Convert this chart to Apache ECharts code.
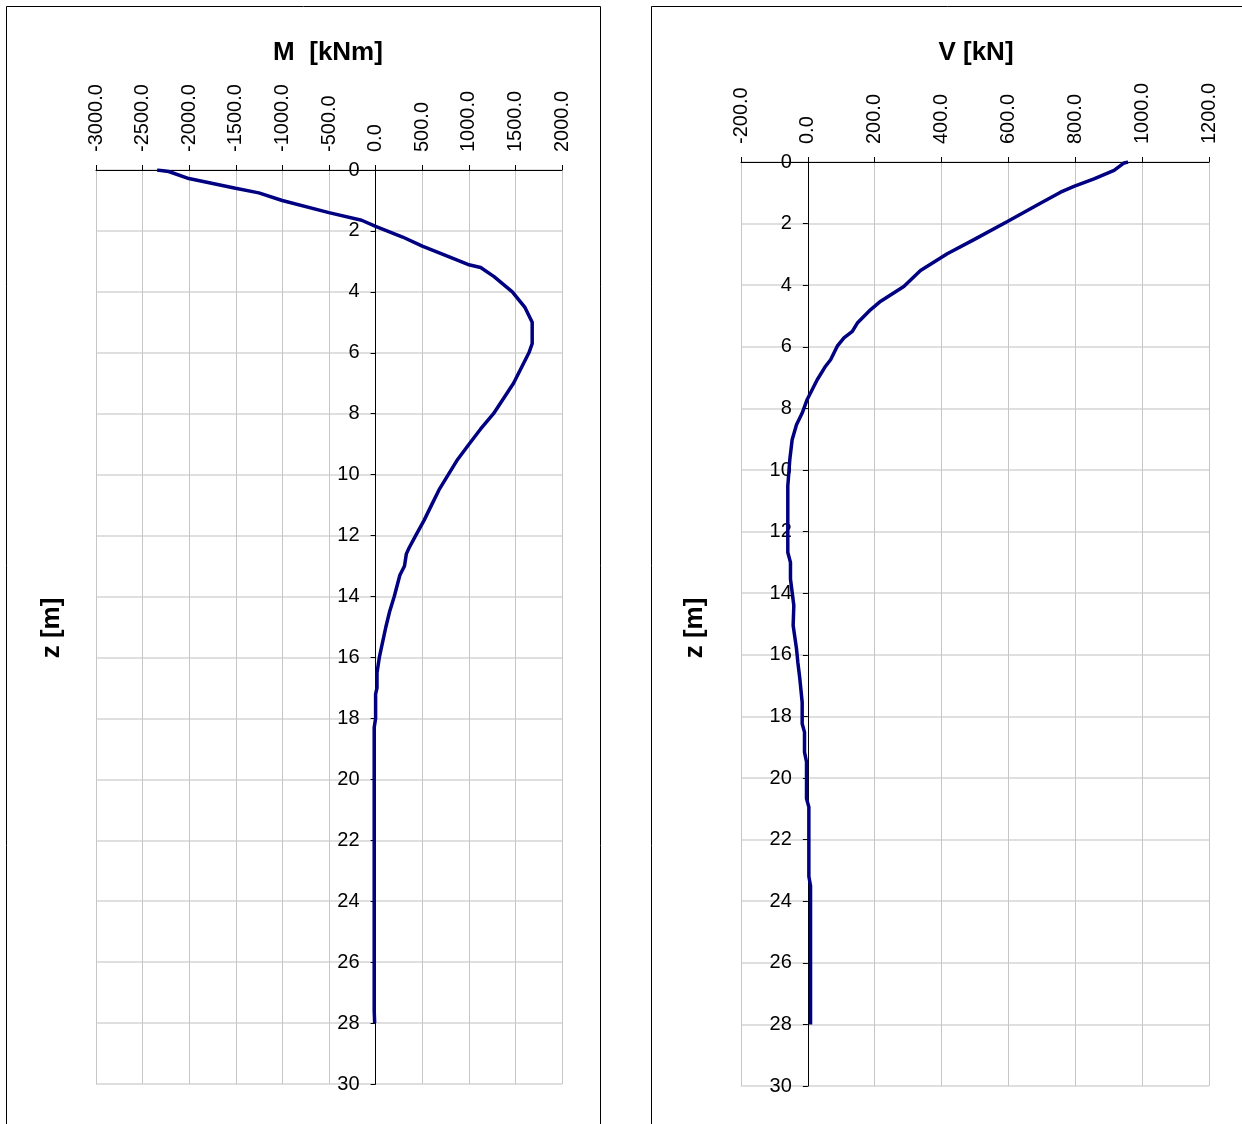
<!DOCTYPE html>
<html>
<head>
<meta charset="utf-8">
<script src="https://cdn.jsdelivr.net/npm/echarts@6/dist/echarts.min.js"></script>
<style>
html,body{margin:0;padding:0;background:#fff;}
#c{width:1242px;height:1124px;}
</style>
</head>
<body>
<div id="c"></div>
<script>
// Depth z [m] and bending moment M [kNm]
const zM = [0.0,0.05,0.28,0.6,0.75,1.0,1.4,1.65,1.85,2.2,2.5,2.85,3.1,3.2,3.5,4.0,4.5,5.0,5.7,6.0,7.0,8.0,8.5,9.0,9.5,10.0,10.5,11.0,11.5,12.0,12.4,12.6,13.0,13.3,14.0,14.5,15.0,15.5,16.0,16.5,17.0,17.2,18.0,18.3,27.6,28.0];
const mVals = [-2344,-2220,-2004,-1503,-1253,-1002,-501,-150,0,290,501,790,990,1127,1271,1467,1600,1680,1680,1645,1480,1265,1127,1002,880,780,680,600,520,430,360,330,310,260,200,150,110,75,40,15,15,0,0,-15,-15,-10];
// Depth z [m] and shear force V [kN]
const zV = [0.0,0.03,0.27,0.55,0.79,0.98,1.33,1.63,1.93,2.52,2.98,3.52,4.04,4.52,4.79,5.23,5.5,5.71,5.98,6.42,6.63,7.07,7.71,8.15,8.53,9.02,9.66,10.52,12.68,13.0,13.54,14.4,15.05,15.8,16.24,16.78,17.54,18.24,18.51,19.16,19.48,20.67,20.94,23.2,23.5,28.0];
const vVals = [958,946,916,856,796,756,697,647,597,497,417,337,287,218,188,148,133,108,88,68,53,28,-2,-17,-34,-47,-54,-60,-60,-52,-52,-42,-44,-34,-30,-24,-17,-17,-10,-10,-4,-4,3,3,8,8];
// Axis ticks
const mTicks = {min:-3000, max:2000, step:500};
const vTicks = {min:-200, max:1200, step:200};
const zTicks = {min:0, max:30, step:2};

const chart = echarts.init(document.getElementById('c'), null, {renderer:'canvas'});
const FONT = 'Liberation Sans, Arial, sans-serif';
function xAx(gi, t){
  return {
    gridIndex: gi, type:'value', position:'top', min:t.min, max:t.max, interval:t.step,
    axisLine:{onZero:false, lineStyle:{color:'#000', width:1}},
    axisTick:{show:true, length:5, lineStyle:{color:'#000'}},
    axisLabel:{rotate:-90, margin:18, fontSize:20, color:'#000', fontFamily:FONT, formatter:v=>v.toFixed(1)},
    splitLine:{show:true, lineStyle:{color:'#c6c6c6', width:1}}
  };
}
function yAx(gi, t, gridLeft, gridWidth){
  const zeroPx = gridLeft + (0 - t.min) / (t.max - t.min) * gridWidth;
  return {
    gridIndex: gi, type:'value', inverse:true, min:zTicks.min, max:zTicks.max, interval:zTicks.step,
    position:'left', offset: -(zeroPx - gridLeft),
    axisLine:{onZero:false, lineStyle:{color:'#000', width:1}},
    axisTick:{show:true, length:5, lineStyle:{color:'#000'}},
    axisLabel:{margin:16, fontSize:20, color:'#000', fontFamily:FONT, formatter:v=>String(v)},
    splitLine:{show:true, lineStyle:{color:'#d4d4d4', width:1.5}}
  };
}
chart.setOption({
  animation:false,
  backgroundColor:'#fff',
  grid:[
    {left:96, top:170, width:466, height:914},
    {left:741, top:162, width:468, height:924}
  ],
  xAxis:[xAx(0,mTicks), xAx(1,vTicks)],
  yAxis:[yAx(0,mTicks,96,466), yAx(1,vTicks,741,468)],
  series:[
    {type:'line', xAxisIndex:0, yAxisIndex:0, showSymbol:false, data:zM.map((z,i)=>[mVals[i], z]),
     lineStyle:{color:'#000080', width:3.5}, itemStyle:{color:'#000080'}},
    {type:'line', xAxisIndex:1, yAxisIndex:1, showSymbol:false, data:zV.map((z,i)=>[vVals[i], z]),
     lineStyle:{color:'#000080', width:3.5}, itemStyle:{color:'#000080'}}
  ],
  graphic:[
    {type:'rect', shape:{x:6.5, y:6.5, width:594, height:1140}, style:{fill:'none', stroke:'#000', lineWidth:1}},
    {type:'rect', shape:{x:651.5, y:6.5, width:700, height:1140}, style:{fill:'none', stroke:'#000', lineWidth:1}},
    {type:'text', x:328, y:53, style:{text:'M  [kNm]', font:'bold 26px '+FONT, fill:'#000', textAlign:'center', textVerticalAlign:'middle'}},
    {type:'text', x:976, y:53, style:{text:'V [kN]', font:'bold 26px '+FONT, fill:'#000', textAlign:'center', textVerticalAlign:'middle'}},
    {type:'text', x:52, y:628, rotation:Math.PI/2, style:{text:'z [m]', font:'bold 26px '+FONT, fill:'#000', textAlign:'center', textVerticalAlign:'middle'}},
    {type:'text', x:695, y:628, rotation:Math.PI/2, style:{text:'z [m]', font:'bold 26px '+FONT, fill:'#000', textAlign:'center', textVerticalAlign:'middle'}}
  ]
});
</script>
</body>
</html>
